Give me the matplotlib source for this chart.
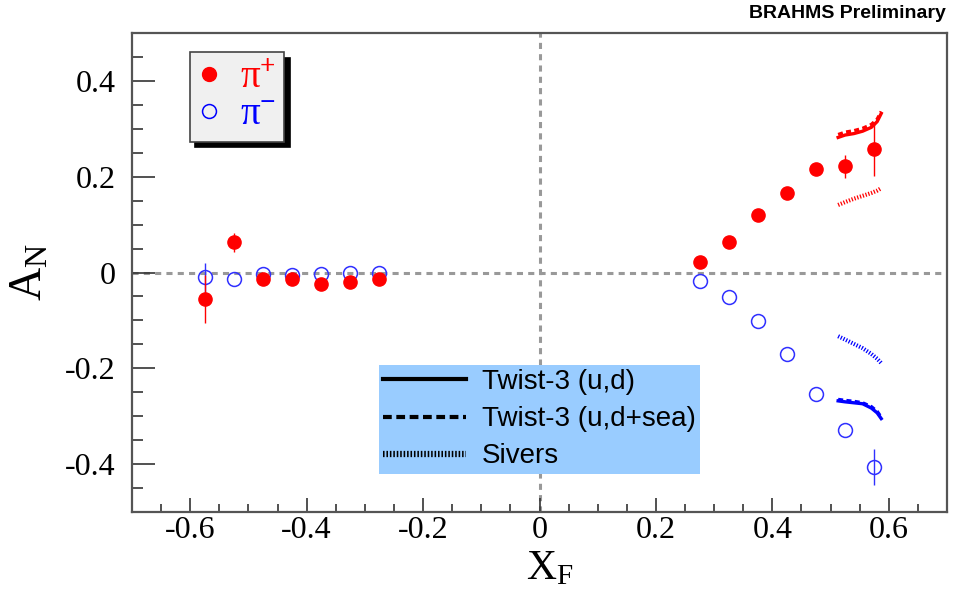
import matplotlib.pyplot as plt
from matplotlib.lines import Line2D
from matplotlib.ticker import MultipleLocator

plt.rcParams['font.family'] = 'Liberation Serif'
plt.rcParams['mathtext.fontset'] = 'custom'
plt.rcParams['mathtext.rm'] = 'Liberation Serif'
plt.rcParams['mathtext.it'] = 'Liberation Serif:italic'
plt.rcParams['mathtext.bf'] = 'Liberation Serif:bold'

# data
xf = [-0.575, -0.525, -0.475, -0.425, -0.375, -0.325, -0.275,
      0.275, 0.325, 0.375, 0.425, 0.475, 0.525, 0.575]
an_pip = [-0.055, 0.063, -0.013, -0.013, -0.023, -0.020, -0.013,
          0.022, 0.064, 0.120, 0.166, 0.216, 0.222, 0.257]
err_pip = [0.050, 0.020, 0.010, 0.010, 0.010, 0.010, 0.010,
           0.010, 0.012, 0.012, 0.012, 0.012, 0.024, 0.056]
an_pim = [-0.010, -0.013, -0.004, -0.006, -0.003, -0.002, 0.000,
          -0.017, -0.052, -0.101, -0.171, -0.254, -0.328, -0.406]
err_pim = [0.030, 0.0, 0.0, 0.0, 0.0, 0.0, 0.0,
           0.0, 0.0, 0.0, 0.0, 0.0, 0.0, 0.038]

# theory curves
xt = [0.513, 0.525, 0.540, 0.555, 0.570, 0.580, 0.587]
tw_pip = [0.282, 0.287, 0.290, 0.295, 0.303, 0.315, 0.332]
tws_pip = [0.288, 0.293, 0.296, 0.301, 0.309, 0.320, 0.336]
siv_pip = [0.141, 0.147, 0.154, 0.160, 0.166, 0.171, 0.176]
tw_pim = [-0.268, -0.270, -0.272, -0.274, -0.283, -0.293, -0.305]
tws_pim = [-0.265, -0.267, -0.269, -0.272, -0.280, -0.290, -0.302]
siv_pim = [-0.133, -0.140, -0.149, -0.158, -0.170, -0.180, -0.189]

red = '#ff0000'
blue = '#0000ff'
sivers_ls = (0, (0.3, 0.4))

fig = plt.figure(figsize=(9.73, 6.04), dpi=100)
ax = fig.add_axes([132/973, 1-512/604, 815/973, 479/604])

ax.axhline(0, color='#999999', lw=2.2, ls=(0, (2, 1.7)), zorder=1)
ax.axvline(0, color='#999999', lw=2.2, ls=(0, (2, 1.7)), zorder=1)

ax.plot(xt, tw_pip, color=red, lw=2.4, zorder=3)
ax.plot(xt, tws_pip, color=red, lw=2.4, ls=(0, (1.5, 1)), zorder=3)
ax.plot(xt, siv_pip, color=red, lw=3, ls=sivers_ls, zorder=3)
ax.plot(xt, tw_pim, color=blue, lw=2.4, zorder=3)
ax.plot(xt, tws_pim, color=blue, lw=2.4, ls=(0, (1.5, 1)), zorder=3)
ax.plot(xt, siv_pim, color=blue, lw=3, ls=sivers_ls, zorder=3)

ax.errorbar(xf, an_pim, yerr=err_pim, fmt='o', ms=10, mfc='none', mec='#3030ff',
            mew=1.1, ecolor='#3030ff', elinewidth=1, capsize=0, zorder=4)
ax.errorbar(xf, an_pip, yerr=err_pip, fmt='o', ms=9.5, color=red,
            ecolor=red, elinewidth=1, capsize=0, zorder=5)

ax.set_xlim(-0.7, 0.7)
ax.set_ylim(-0.5, 0.5)
ax.xaxis.set_major_locator(MultipleLocator(0.2))
ax.xaxis.set_minor_locator(MultipleLocator(0.05))
ax.yaxis.set_major_locator(MultipleLocator(0.2))
ax.yaxis.set_minor_locator(MultipleLocator(0.05))
ax.xaxis.set_major_formatter(lambda v, p: '0' if abs(v) < 1e-9 else f'{v:.1f}')
ax.yaxis.set_major_formatter(lambda v, p: '0' if abs(v) < 1e-9 else f'{v:.1f}')
ax.tick_params(which='both', direction='in', top=False, right=False, width=1.2, color='#333333')
ax.tick_params(axis='x', which='major', length=10, pad=3, labelsize=23)
ax.tick_params(axis='x', which='minor', length=5.5)
ax.tick_params(axis='y', which='major', length=16.5, pad=12, labelsize=23)
ax.tick_params(axis='y', which='minor', length=8)
for s in ax.spines.values():
    s.set_color('#555555')
    s.set_linewidth(1.6)

ax.set_xlabel(r'$\mathrm{X}_{\mathrm{F}}$', fontsize=30)
ax.xaxis.set_label_coords(0.513, -0.078)
ax.set_ylabel(r'$\mathrm{A}_{\mathrm{N}}$', fontsize=33)
ax.yaxis.set_label_coords(-0.098, 0.5)

# pion legend
h_pi = [Line2D([], [], ls='none', marker='o', ms=10, color=red),
        Line2D([], [], ls='none', marker='o', ms=10, mfc='none', mec=blue, mew=1.1)]
leg1 = ax.legend(h_pi, [r'$\mathrm{\pi}^{\mathbf{+}}$', r'$\mathrm{\pi}^{\mathbf{-}}$'],
                 loc='upper left', bbox_to_anchor=(0.071, 0.96), borderaxespad=0,
                 fontsize=28, labelcolor=[red, blue], frameon=True, fancybox=False,
                 facecolor='#f0f0f0', edgecolor='#444444', framealpha=1,
                 shadow={'ox': 4, 'oy': -4, 'color': 'black', 'alpha': 1},
                 handlelength=0.6, handletextpad=0.5, borderpad=0.2, labelspacing=0.0,
                 numpoints=1)
leg1.get_frame().set_linewidth(1.2)
ax.add_artist(leg1)

# theory legend
h_th = [Line2D([], [], color='black', lw=3),
        Line2D([], [], color='black', lw=3, ls=(0, (2.1, 1.1))),
        Line2D([], [], color='black', lw=4.5, ls=(0, (0.25, 0.3)))]
leg2 = ax.legend(h_th, ['Twist-3 (u,d)', 'Twist-3 (u,d+sea)', 'Sivers'],
                 loc='upper left', bbox_to_anchor=(0.303, 0.307), borderaxespad=0,
                 prop={'family': 'Liberation Sans', 'size': 20}, frameon=True,
                 fancybox=False, facecolor='#99ccff', edgecolor='none', framealpha=1,
                 handlelength=3.0, handletextpad=0.55, borderpad=0.15, labelspacing=0.4)

fig.text(946/973, 1-13/604, 'BRAHMS Preliminary', ha='right', va='center',
         fontfamily='Liberation Sans', fontweight='bold', fontsize=14)

fig.savefig('out.png', dpi=100)
